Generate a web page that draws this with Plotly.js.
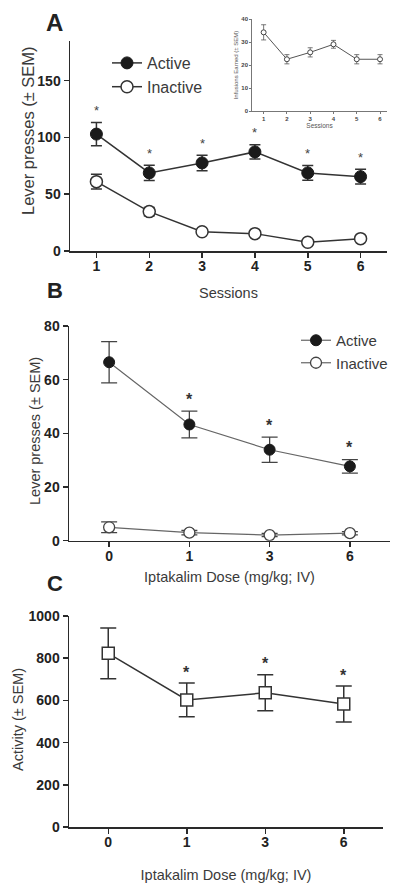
<!DOCTYPE html>
<html>
<head>
<meta charset="utf-8">
<script src="https://cdn.plot.ly/plotly-3.0.1.min.js"></script>
<style>
html,body{margin:0;padding:0;background:#fff;}
#chart{width:401px;height:891px;}
</style>
</head>
<body>
<div id="chart"></div>
<script>
// ---------- DATA ----------
// Panel A: lever presses across sessions
const sessions = [1, 2, 3, 4, 5, 6];
const activeA = [103, 68.8, 77.6, 87.3, 68.8, 65.5];
const activeA_sem = [10.3, 6.8, 6.8, 6.2, 6.5, 6.5];
const inactiveA = [61.1, 34.7, 17.0, 15.3, 7.7, 10.9];
const inactiveA_sem = [6.5, 3.7, 1.5, 1.5, 1.2, 1.2];
const sigA = [1, 2, 3, 4, 5, 6];

// Panel A inset: infusions earned
const infusions = [34.2, 22.5, 25.5, 29.0, 22.5, 22.5];
const infusions_sem = [3.3, 2.0, 2.0, 1.7, 2.0, 2.0];

// Panel B: lever presses by iptakalim dose
const doses = ["0", "1", "3", "6"];
const activeB = [66.5, 43.3, 33.9, 27.7];
const activeB_sem = [7.7, 5.0, 4.7, 2.5];
const inactiveB = [5.0, 3.0, 2.1, 2.8];
const inactiveB_sem = [2.0, 0.8, 0.6, 0.6];
const sigB = ["1", "3", "6"];

// Panel C: activity by iptakalim dose
const activityC = [823, 602, 636, 583];
const activityC_sem = [120, 80, 85, 85];
const sigC = ["1", "3", "6"];

// Tick values
const yTicksA = [0, 50, 100, 150];
const yTicksInset = [0, 10, 20, 30, 40];
const yTicksB = [0, 20, 40, 60, 80];
const yTicksC = [0, 200, 400, 600, 800, 1000];

// Titles
const yTitleA = 'Lever presses (± SEM)';
const yTitleB = 'Lever presses (± SEM)';
const yTitleC = 'Activity (± SEM)';
const xTitleA = 'Sessions';
const xTitleDose = 'Iptakalim Dose (mg/kg; IV)';

// ---------- LAYOUT HELPERS ----------
const W = 401, H = 891;
const px = (a, b) => [a / W, b / W];
const py = (top, bottom) => [1 - bottom / H, 1 - top / H];

const FONT = '"Liberation Sans", Arial, Helvetica, sans-serif';
const DARK = '#2a2a2a';
const TXT = '#3a3a3a';

function axisBase(extra) {
  return Object.assign({
    showline: true, linecolor: DARK, linewidth: 1.5,
    ticks: 'outside', ticklen: 5, tickwidth: 1.5, tickcolor: DARK,
    showgrid: false, zeroline: false, fixedrange: true,
    tickfont: {family: FONT, size: 14, color: '#222', weight: 'bold'}
  }, extra);
}

// ---------- TRACES ----------
const traces = [
  {
    x: sessions, y: activeA, name: 'Active', type: 'scatter', mode: 'lines+markers',
    xaxis: 'x', yaxis: 'y', legend: 'legend', legendgroup: 'a1',
    line: {color: '#333', width: 1.5},
    marker: {symbol: 'circle', size: 12, color: '#1a1a1a', line: {color: '#1a1a1a', width: 1}},
    error_y: {type: 'data', array: activeA_sem, visible: true, color: '#333', thickness: 1.5, width: 5.5}
  },
  {
    x: sessions, y: inactiveA, name: 'Inactive', type: 'scatter', mode: 'lines+markers',
    xaxis: 'x', yaxis: 'y', legend: 'legend', legendgroup: 'a2',
    line: {color: '#333', width: 1.5},
    marker: {symbol: 'circle', size: 12, color: '#ffffff', line: {color: '#333', width: 1.5}},
    error_y: {type: 'data', array: inactiveA_sem, visible: true, color: '#333', thickness: 1.5, width: 5.5}
  },
  {
    x: sessions, y: infusions, name: 'Infusions', type: 'scatter', mode: 'lines+markers',
    xaxis: 'x2', yaxis: 'y2', showlegend: false,
    line: {color: '#555', width: 1},
    marker: {symbol: 'circle', size: 5, color: '#ffffff', line: {color: '#444', width: 1}},
    error_y: {type: 'data', array: infusions_sem, visible: true, color: '#555', thickness: 0.8, width: 2.5}
  },
  {
    x: doses, y: activeB, name: 'Active', type: 'scatter', mode: 'lines+markers',
    xaxis: 'x3', yaxis: 'y3', legend: 'legend2', legendgroup: 'b1',
    line: {color: '#666', width: 1.2},
    marker: {symbol: 'circle', size: 11, color: '#1a1a1a', line: {color: '#1a1a1a', width: 1}},
    error_y: {type: 'data', array: activeB_sem, visible: true, color: '#444', thickness: 1.3, width: 8}
  },
  {
    x: doses, y: inactiveB, name: 'Inactive', type: 'scatter', mode: 'lines+markers',
    xaxis: 'x3', yaxis: 'y3', legend: 'legend2', legendgroup: 'b2',
    line: {color: '#666', width: 1.2},
    marker: {symbol: 'circle', size: 11, color: '#ffffff', line: {color: '#444', width: 1.3}},
    error_y: {type: 'data', array: inactiveB_sem, visible: true, color: '#444', thickness: 1.3, width: 8}
  },
  {
    x: doses, y: activityC, name: 'Activity', type: 'scatter', mode: 'lines+markers',
    xaxis: 'x4', yaxis: 'y4', showlegend: false,
    line: {color: '#333', width: 1.5},
    marker: {symbol: 'square', size: 12, color: '#ffffff', line: {color: '#333', width: 1.5}},
    error_y: {type: 'data', array: activityC_sem, visible: true, color: '#333', thickness: 1.5, width: 8}
  }
];

// ---------- ANNOTATIONS (significance stars, panel letters, y titles) ----------
const annotations = [];
sigA.forEach(s => {
  const i = sessions.indexOf(s);
  annotations.push({xref: 'x', yref: 'y', x: s, y: activeA[i] + activeA_sem[i], yshift: 12,
    text: '*', showarrow: false, font: {family: FONT, size: 13, color: '#444'}});
});
sigB.forEach(d => {
  const i = doses.indexOf(d);
  annotations.push({xref: 'x3', yref: 'y3', x: i, y: activeB[i] + activeB_sem[i], yshift: 12,
    text: '*', showarrow: false, font: {family: FONT, size: 16, color: '#333', weight: 'bold'}});
});
sigC.forEach(d => {
  const i = doses.indexOf(d);
  annotations.push({xref: 'x4', yref: 'y4', x: i, y: activityC[i] + activityC_sem[i], yshift: 11,
    text: '*', showarrow: false, font: {family: FONT, size: 16, color: '#333', weight: 'bold'}});
});
[['A', 54, 22, 24], ['B', 54.5, 291, 22], ['C', 54.5, 583, 22]].forEach(([t, cx, cy, sz]) => {
  annotations.push({xref: 'paper', yref: 'paper', x: cx / W, y: 1 - cy / H, xanchor: 'center', yanchor: 'middle',
    text: '<b>' + t + '</b>', showarrow: false, font: {family: FONT, size: sz, color: '#222'}});
});
[[yTitleA, 28, 131, 16.5], [yTitleB, 35, 431, 14.5], [yTitleC, 18, 720, 14.5]].forEach(([t, cx, cy, sz]) => {
  annotations.push({xref: 'paper', yref: 'paper', x: cx / W, y: 1 - cy / H, xanchor: 'center', yanchor: 'middle',
    textangle: -90, text: t, showarrow: false, font: {family: FONT, size: sz, color: TXT}});
});

// ---------- LAYOUT ----------
const layout = {
  width: W, height: H,
  margin: {l: 0, r: 0, t: 0, b: 0},
  paper_bgcolor: '#ffffff', plot_bgcolor: 'rgba(0,0,0,0)',
  font: {family: FONT, color: TXT},
  showlegend: true,
  xaxis: axisBase({domain: px(70, 387), anchor: 'y', range: [0.5, 6.5], tickvals: sessions, ticklabelstandoff: -3,
    title: {text: xTitleA, font: {family: FONT, size: 14.5, color: TXT}, standoff: 14}}),
  yaxis: axisBase({domain: py(41, 251), anchor: 'x', range: [0, 185], tickvals: yTicksA}),
  xaxis2: axisBase({domain: px(252, 387), anchor: 'y2', range: [0.5, 6.3], tickvals: sessions,
    linewidth: 0.8, ticklen: 2, tickwidth: 0.8, linecolor: '#555', tickcolor: '#555',
    tickfont: {family: FONT, size: 6, color: '#444', weight: 'bold'},
    title: {text: 'Sessions', font: {family: FONT, size: 6.5, color: '#555'}, standoff: 2}}),
  yaxis2: axisBase({domain: py(19, 111), anchor: 'x2', range: [0, 40], tickvals: yTicksInset,
    linewidth: 0.8, ticklen: 2, tickwidth: 0.8, linecolor: '#555', tickcolor: '#555',
    tickfont: {family: FONT, size: 6, color: '#444', weight: 'bold'},
    title: {text: 'Infusions Earned (± SEM)', font: {family: FONT, size: 6, color: '#555'}, standoff: 2}}),
  xaxis3: axisBase({domain: px(69, 390), anchor: 'y3', type: 'category', range: [-0.5, 3.5], ticklabelstandoff: -3,
    title: {text: xTitleDose, font: {family: FONT, size: 14.5, color: TXT}, standoff: 9}}),
  yaxis3: axisBase({domain: py(326, 540.7), anchor: 'x3', range: [0, 80], tickvals: yTicksB}),
  xaxis4: axisBase({domain: px(69, 383), anchor: 'y4', type: 'category', range: [-0.5, 3.5], ticklabelstandoff: -3,
    title: {text: xTitleDose, font: {family: FONT, size: 14.5, color: TXT}, standoff: 20}}),
  yaxis4: axisBase({domain: py(616, 827), anchor: 'x4', range: [0, 1000], tickvals: yTicksC}),
  legend: {x: 107 / W, y: 1 - 46 / H, xanchor: 'left', yanchor: 'top', bgcolor: 'rgba(0,0,0,0)',
    font: {family: FONT, size: 16, color: TXT}, tracegroupgap: 0, itemwidth: 30},
  legend2: {x: 296 / W, y: 1 - 324 / H, xanchor: 'left', yanchor: 'top', bgcolor: 'rgba(0,0,0,0)',
    font: {family: FONT, size: 15, color: TXT}, tracegroupgap: 0, itemwidth: 30},
  annotations: annotations
};

Plotly.newPlot('chart', traces, layout, {staticPlot: true, displayModeBar: false});
</script>
</body>
</html>
